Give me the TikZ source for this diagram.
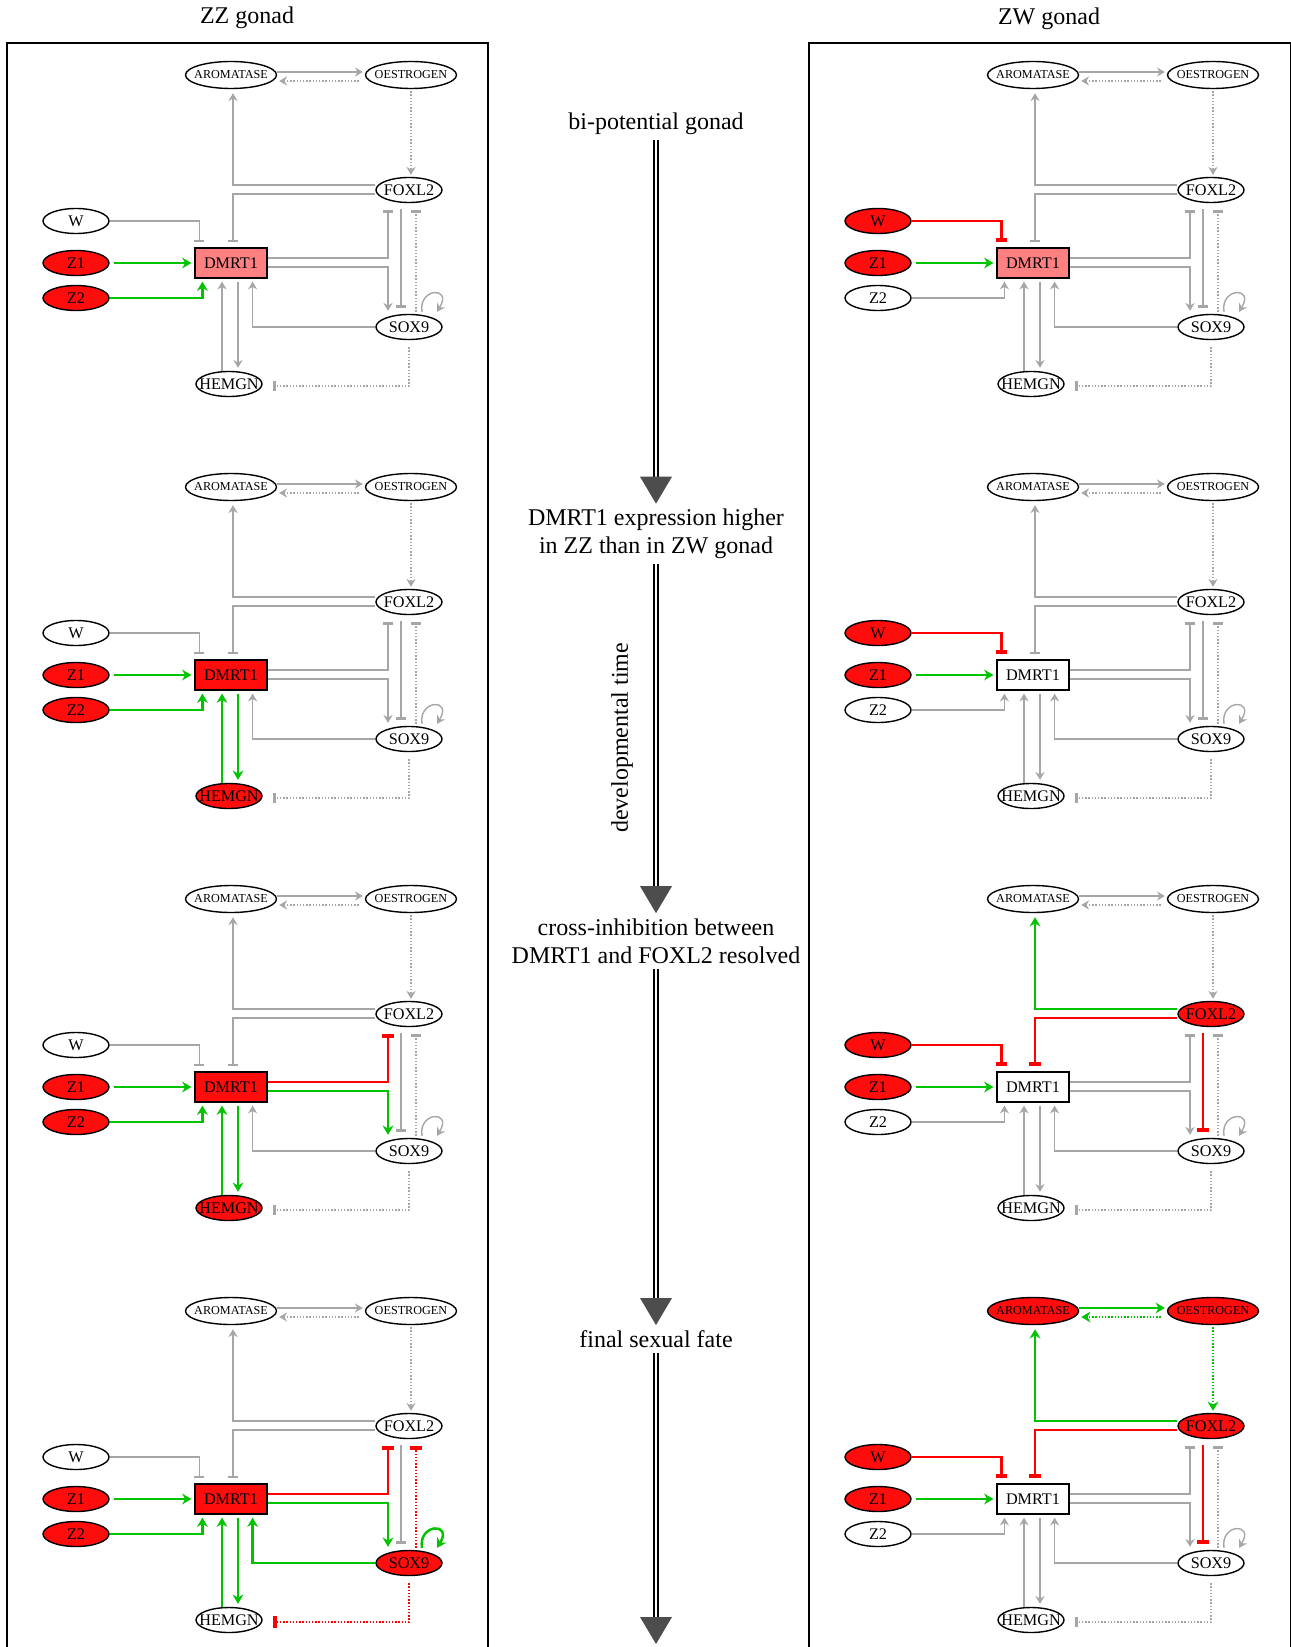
\documentclass[tikz,border=0pt]{standalone}
\usepackage{fontspec}
\setmainfont{Liberation Serif}
\usetikzlibrary{shapes.geometric,arrows.meta}

\definecolor{genered}{HTML}{FF0D0D}
\definecolor{halfred}{HTML}{FF8080}
\definecolor{linkgray}{HTML}{A6A6A6}
\definecolor{actgreen}{HTML}{00C400}
\definecolor{inhred}{HTML}{FF0000}
\definecolor{headgray}{HTML}{4D4D4D}

\tikzset{
  gene/.style={ellipse, draw, line width=0.7pt, fill=white, minimum width=33pt, minimum height=12.5pt,
    inner xsep=-6pt, inner ysep=0pt, font=\fontsize{8.1}{9}\selectfont},
  hormone/.style={gene, minimum width=45.5pt, minimum height=13.5pt, font=\fontsize{6.1}{7}\selectfont},
  hub/.style={rectangle, draw, line width=0.6pt, fill=white, minimum width=36pt, minimum height=15pt,
    inner sep=0pt, font=\fontsize{8.1}{9}\selectfont},
  lit/.style={fill=genered},
  halflit/.style={fill=halfred},
  dull/.style={draw=linkgray, line width=0.7pt},
  hot/.style={draw=actgreen, line width=1.25pt},
  cold/.style={draw=inhred, line width=1.25pt},
  act/.style={-{Stealth[length=3pt 1.3, width=3.5pt 1.5]}},
  inh/.style={-{Bar[width=4pt 1.5, line width=0.6pt 1.2]}},
  weak/.style={dash pattern=on 0.7pt off 0.9pt},
  boost/.style={hot,act},
  block/.style={cold,inh},
  gonadbox/.style={line width=1pt},
  heading/.style={font=\fontsize{12}{14}\selectfont},
  stage/.style={font=\fontsize{12}{14}\selectfont, align=center, inner sep=2.5pt},
  spine/.style={draw=black, double=white, line width=1pt, double distance=1.2pt},
  % default looks of the network, changed per panel
  nAro/.style={}, nOes/.style={}, nFox/.style={}, nW/.style={}, nZa/.style={},
  nZb/.style={}, nDm/.style={}, nSox/.style={}, nHem/.style={},
  eAroOes/.style={dull,act}, eOesAro/.style={dull,act,weak}, eOesFox/.style={dull,act,weak},
  eFoxAro/.style={dull,act}, eFoxDm/.style={dull,inh}, eWDm/.style={dull,inh},
  eZaDm/.style={dull,act}, eZbDm/.style={dull,act}, eDmFox/.style={dull,inh},
  eDmSox/.style={dull,act}, eFoxSox/.style={dull,inh}, eSoxFox/.style={dull,inh,weak},
  eSoxSox/.style={dull,act}, eSoxDm/.style={dull,act}, eHemDm/.style={dull,act},
  eDmHem/.style={dull,act}, eSoxHem/.style={dull,inh,weak}
}

% one gene network, #1 = name prefix
\newcommand\gonadnet[1]{%
  \node[hormone,nAro] (#1aro) at (231,75) {AROMATASE};
  \node[hormone,nOes] (#1oes) at (411,75) {OESTROGEN};
  \node[gene,nFox] (#1fox) at (409,190) {FOXL2};
  \node[gene,nW] (#1w) at (76,221) {W};
  \node[gene,nZa] (#1za) at (76,263) {Z1};
  \node[gene,nZb] (#1zb) at (76,298) {Z2};
  \node[hub,nDm] (#1dm) at (231,263) {DMRT1};
  \node[gene,nSox] (#1sox) at (409,327) {SOX9};
  \node[gene,nHem] (#1hem) at (229,384) {HEMGN};
  \draw[eAroOes] ([yshift=1.5pt]#1aro.east) -- ([xshift=-1pt,yshift=1.5pt]#1oes.west);
  \draw[eOesAro] ([xshift=-3pt,yshift=-3pt]#1oes.west) -- ([xshift=1pt,yshift=-3pt]#1aro.east);
  \draw[eOesFox] ([yshift=-1pt]#1oes.south) -- ([yshift=1pt]#1oes.south |- #1fox.north);
  \draw[eFoxAro] ([yshift=2.5pt]#1fox.west) -| ([xshift=1pt,yshift=-2pt]#1aro.south);
  \draw[eFoxDm] ([yshift=-2pt]#1fox.west) -| ([xshift=1pt,yshift=2.5pt]#1dm.north);
  \draw[eWDm] (#1w.east) -| ([xshift=2.5pt,yshift=2.5pt]#1dm.north west);
  \draw[eZaDm] ([xshift=2pt]#1za.east) -- ([xshift=-1.5pt]#1dm.west);
  \draw[eZbDm] (#1zb.east) -| ([xshift=4pt,yshift=-1.5pt]#1dm.south west);
  \draw[eDmFox] ([yshift=2.5pt]#1dm.east) -| ([xshift=-10.5pt,yshift=-3.5pt]#1fox.south);
  \draw[eDmSox] ([yshift=-2pt]#1dm.east) -| ([xshift=-10.5pt,yshift=1.5pt]#1sox.north);
  \draw[eFoxSox] ([xshift=-4pt,yshift=-3pt]#1fox.south) -- ([xshift=-4pt,yshift=3pt]#1sox.north);
  \draw[eSoxFox] ([xshift=3.5pt,yshift=1pt]#1sox.north) -- ([xshift=3.5pt,yshift=-3.5pt]#1fox.south);
  \draw[eSoxSox] ([xshift=6.5pt,yshift=1pt]#1sox.north) .. controls +(-2pt,12pt) and +(8pt,13pt) .. ([xshift=14pt,yshift=1pt]#1sox.north);
  \draw[eSoxDm] (#1sox.west) -| ([xshift=-7.5pt,yshift=-1.5pt]#1dm.south east);
  \draw[eHemDm] ([xshift=-4.5pt]#1dm.south |- #1hem.north) -- ([xshift=-4.5pt,yshift=-1.5pt]#1dm.south);
  \draw[eDmHem] ([xshift=3.5pt,yshift=-1.5pt]#1dm.south) -- ([xshift=3.5pt,yshift=1.5pt]#1dm.south |- #1hem.north);
  \draw[eSoxHem] ([yshift=-3.5pt]#1sox.south) |- ([xshift=5pt,yshift=-1pt]#1hem.east);
}

\begin{document}
\begin{tikzpicture}[x=0.5pt, y=-0.5pt]
\useasboundingbox (0,0) rectangle (1290,1647);

% frames and headings
\draw[gonadbox] (7,1660) -- (7,43) -- (488,43) -- (488,1660);
\draw[gonadbox] (809,1660) -- (809,43) -- (1291,43) -- (1291,1660);
\node[heading] (zzhead) at (247,18) {ZZ gonad};
\node[heading] (zwhead) at (1049,19) {ZW gonad};

% ZZ gonad
\begin{scope}[nZa/.style={lit}, nZb/.style={lit}, nDm/.style={halflit},
  eZaDm/.style={boost}, eZbDm/.style={boost}]
  \gonadnet{zza}
\end{scope}
\begin{scope}[shift={(0,412)}, nZa/.style={lit}, nZb/.style={lit}, nDm/.style={lit}, nHem/.style={lit},
  eZaDm/.style={boost}, eZbDm/.style={boost}, eHemDm/.style={boost}, eDmHem/.style={boost}]
  \gonadnet{zzb}
\end{scope}
\begin{scope}[shift={(0,824)}, nZa/.style={lit}, nZb/.style={lit}, nDm/.style={lit}, nHem/.style={lit},
  eZaDm/.style={boost}, eZbDm/.style={boost}, eHemDm/.style={boost}, eDmHem/.style={boost},
  eDmFox/.style={block}, eDmSox/.style={boost}]
  \gonadnet{zzc}
\end{scope}
\begin{scope}[shift={(0,1236)}, nZa/.style={lit}, nZb/.style={lit}, nDm/.style={lit}, nSox/.style={lit},
  eZaDm/.style={boost}, eZbDm/.style={boost}, eHemDm/.style={boost}, eDmHem/.style={boost},
  eDmFox/.style={block}, eDmSox/.style={boost}, eSoxSox/.style={boost}, eSoxDm/.style={boost},
  eSoxFox/.style={block,weak}, eSoxHem/.style={block,weak}]
  \gonadnet{zzd}
\end{scope}

% ZW gonad
\begin{scope}[shift={(802,0)}, nW/.style={lit}, nZa/.style={lit}, nDm/.style={halflit},
  eWDm/.style={block}, eZaDm/.style={boost}]
  \gonadnet{zwa}
\end{scope}
\begin{scope}[shift={(802,412)}, nW/.style={lit}, nZa/.style={lit},
  eWDm/.style={block}, eZaDm/.style={boost}]
  \gonadnet{zwb}
\end{scope}
\begin{scope}[shift={(802,824)}, nW/.style={lit}, nZa/.style={lit}, nFox/.style={lit},
  eWDm/.style={block}, eZaDm/.style={boost}, eFoxDm/.style={block}, eFoxSox/.style={block},
  eFoxAro/.style={boost}]
  \gonadnet{zwc}
\end{scope}
\begin{scope}[shift={(802,1236)}, nW/.style={lit}, nZa/.style={lit}, nFox/.style={lit},
  nAro/.style={lit}, nOes/.style={lit},
  eWDm/.style={block}, eZaDm/.style={boost}, eFoxDm/.style={block}, eFoxSox/.style={block},
  eFoxAro/.style={boost}, eAroOes/.style={boost}, eOesAro/.style={boost,weak}, eOesFox/.style={boost,weak}]
  \gonadnet{zwd}
\end{scope}

% time line
\node[stage] (bipot) at (656,124) {bi-potential gonad};
\node[stage] (dmhigh) at (656,534) {DMRT1 expression higher\\in ZZ than in ZW gonad};
\node[stage] (resolved) at (656,941) {cross-inhibition between\\DMRT1 and FOXL2 resolved};
\node[stage] (fate) at (656,1339) {final sexual fate};
\node[stage, rotate=90] (devtime) at (622,738) {developmental time};
\coordinate (fateend) at (656,1644);

\foreach \a/\b in {bipot/dmhigh, dmhigh/resolved, resolved/fate} {
  \draw[spine] (\a.south) -- ([yshift=13pt]\b.north);
  \fill[headgray] (\b.north) -- ++(8pt,13.5pt) -- ++(-16pt,0pt) -- cycle;
}
\draw[spine] (fate.south) -- ([yshift=13pt]fateend);
\fill[headgray] (fateend) -- ++(8pt,13.5pt) -- ++(-16pt,0pt) -- cycle;
\end{tikzpicture}
\end{document}
